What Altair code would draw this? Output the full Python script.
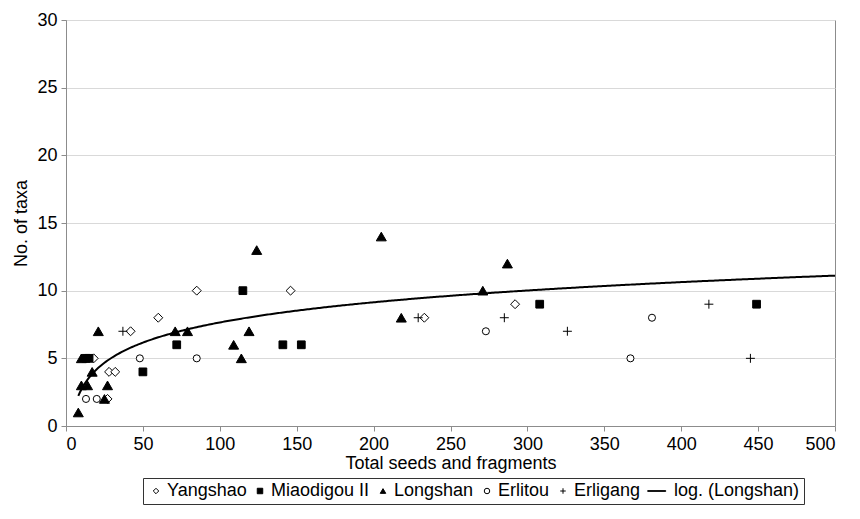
import altair as alt
import pandas as pd

# ---- data ----
series_names = ["Yangshao", "Miaodigou II", "Longshan", "Erlitou", "Erligang"]

yangshao_x = [60, 42, 28, 32, 18, 27, 85, 146, 233, 292]
yangshao_y = [8, 7, 4, 4, 5, 2, 10, 10, 8, 9]

miaodigou_x = [72, 13, 15, 50, 115, 141, 153, 308, 449]
miaodigou_y = [6, 5, 5, 4, 10, 6, 6, 9, 9]

longshan_x = [8, 10, 14, 10, 17, 21, 25, 27, 71, 79, 109, 114, 119, 124, 205, 218, 271, 287]
longshan_y = [1, 3, 3, 5, 4, 7, 2, 3, 7, 7, 6, 5, 7, 13, 14, 8, 10, 12]

erlitou_x = [13, 20, 48, 85, 273, 367, 381]
erlitou_y = [2, 2, 5, 5, 7, 5, 8]

erligang_x = [37, 229, 285, 326, 418, 445]
erligang_y = [7, 8, 8, 7, 9, 5]

# logarithmic trendline for Longshan, y = a*ln(x) + b (coefficients)
trend_name = "log. (Longshan)"
trend_a = 2.15
trend_b = -2.25
trend_start = 8
trend_end = 500

x_ticks = [0, 50, 100, 150, 200, 250, 300, 350, 400, 450, 500]
y_ticks = [0, 5, 10, 15, 20, 25, 30]

# ---- build table ----
series_data = [
    ("Yangshao", yangshao_x, yangshao_y),
    ("Miaodigou II", miaodigou_x, miaodigou_y),
    ("Longshan", longshan_x, longshan_y),
    ("Erlitou", erlitou_x, erlitou_y),
    ("Erligang", erligang_x, erligang_y),
]
rows = []
for name, xs, ys in series_data:
    for xv, yv in zip(xs, ys):
        rows.append({"series": name, "seeds": xv, "taxa": yv})
df = pd.DataFrame(rows)

legend_domain = series_names + [trend_name]
shape_range = [
    "diamond",
    "square",
    "triangle-up",
    "circle",
    "M-1,0L1,0M0,-1L0,1",
    "M-5.6,-0.12L1.0,-0.12L1.0,0.12L-5.6,0.12Z",
]
fill_range = ["white", "black", "black", "white", "transparent", "black"]
stroke_range = ["black"] * 6
marker_sizes = {"Yangshao": 80, "Miaodigou II": 60, "Longshan": 100, "Erlitou": 50, "Erligang": 80}

font = "Liberation Sans"

legend = alt.Legend(
    orient="none",
    legendX=77,
    legendY=458,
    direction="horizontal",
    columns=6,
    strokeColor="#333333",
    fillColor="white",
    padding=4,
    labelFont=font,
    labelFontSize=18,
    labelColor="black",
    symbolSize=30,
    symbolStrokeWidth=1,
    columnPadding=4,
    labelOffset=2,
)

x_enc = alt.X(
    "seeds:Q",
    scale=alt.Scale(domain=[0, 500], nice=False),
    axis=alt.Axis(values=x_ticks, title="Total seeds and fragments", grid=False, titlePadding=1),
)
y_enc = alt.Y(
    "taxa:Q",
    scale=alt.Scale(domain=[0, 30], nice=False),
    axis=alt.Axis(values=y_ticks, title="No. of taxa", grid=True),
)

layers = []
for name, _, _ in series_data:
    layers.append(
        alt.Chart(df)
        .transform_filter(alt.datum.series == name)
        .mark_point(filled=True, strokeWidth=1, opacity=1, size=marker_sizes[name])
        .encode(
            x=x_enc,
            y=y_enc,
            shape=alt.Shape("series:N", scale=alt.Scale(domain=legend_domain, range=shape_range), legend=legend, title=""),
            fill=alt.Fill("series:N", scale=alt.Scale(domain=legend_domain, range=fill_range), legend=legend, title=""),
            stroke=alt.Stroke("series:N", scale=alt.Scale(domain=legend_domain, range=stroke_range), legend=legend, title=""),
        )
    )

trend = alt.Chart(alt.sequence(trend_start, trend_end + 1, 1, as_="seeds")).transform_calculate(
    taxa=f"{trend_a} * log(datum.seeds) + ({trend_b})"
).mark_line(color="black", strokeWidth=2).encode(
    x=alt.X("seeds:Q"),
    y=alt.Y("taxa:Q"),
)

chart = (
    alt.layer(*layers, trend)
    .properties(
        width=769,
        height=406,
        autosize=alt.AutoSizeParams(type="none"),
        padding={"left": 58, "top": 12, "right": 10, "bottom": 85},
        background="white",
    )
    .configure_view(stroke="#8c8c8c", strokeWidth=1)
    .configure_axis(
        labelFont=font,
        titleFont=font,
        labelFontSize=18,
        titleFontSize=18,
        titleFontWeight="normal",
        labelColor="black",
        titleColor="black",
        domainColor="#8c8c8c",
        tickColor="#8c8c8c",
        gridColor="#d9d9d9",
        tickSize=5,
        labelPadding=4,
        titlePadding=6,
    )
)

chart.save("out.html", embed_options={"renderer": "svg", "actions": False})
